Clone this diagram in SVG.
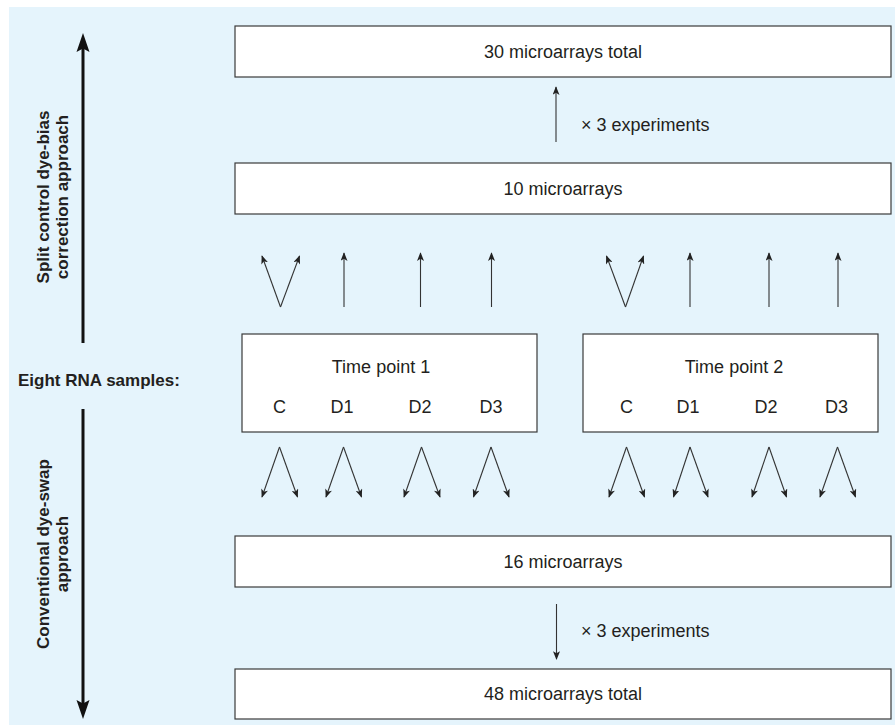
<svg xmlns="http://www.w3.org/2000/svg" width="895" height="725" viewBox="0 0 895 725">
<style>
.box{fill:#fff;stroke:#3a3a3a;stroke-width:1.2}
.t{font-family:"Liberation Sans",Arial,sans-serif;font-size:18px;fill:#231f20}
.b{font-family:"Liberation Sans",Arial,sans-serif;font-size:17px;font-weight:bold;fill:#231f20}
.c{font-family:"Liberation Sans",Arial,sans-serif;font-size:18px;fill:#231f20;text-anchor:middle}
.a{fill:none;stroke:#333;stroke-width:1.1;marker-end:url(#ah)}
.big{stroke:#111;stroke-width:3;fill:none}
.bh{fill:#111}
</style>
<defs>
<marker id="ah" viewBox="0 0 10 8" refX="9" refY="4" markerWidth="9" markerHeight="7" markerUnits="userSpaceOnUse" orient="auto">
<path d="M0,0 L10,4 L0,8 L2.5,4 Z" fill="#222"/>
</marker>
</defs>
<rect x="9" y="7" width="886" height="718" fill="#e5f4fc"/>

<g id="connectors">
<path class="big" d="M83,48 V343"/>
<path class="bh" d="M83,33 L89.5,52 L83,48.5 L76.5,52 Z"/>
<path class="big" d="M83,409 V704"/>
<path class="bh" d="M83,719 L89.5,700 L83,703.5 L76.5,700 Z"/>

<path class="a" d="M556,142 V87"/>
<path class="a" d="M556.5,604 V659"/>

<path class="a" d="M280.5,307 L262,256"/>
<path class="a" d="M280.5,307 L299.5,256"/>
<path class="a" d="M344,307 V253"/>
<path class="a" d="M420.5,307 V253"/>
<path class="a" d="M491.5,307 V253"/>
<path class="a" d="M625.5,307 L606.5,256"/>
<path class="a" d="M625.5,307 L643.5,256"/>
<path class="a" d="M690,307 V253"/>
<path class="a" d="M769,307 V253"/>
<path class="a" d="M838,307 V253"/>

<path class="a" d="M279.5,447 L262,497"/>
<path class="a" d="M279.5,447 L297.5,497"/>
<path class="a" d="M343.5,447 L326,497"/>
<path class="a" d="M343.5,447 L361.5,497"/>
<path class="a" d="M421.5,447 L404,497"/>
<path class="a" d="M421.5,447 L440,497"/>
<path class="a" d="M491,447 L473.5,497"/>
<path class="a" d="M491,447 L509,497"/>
<path class="a" d="M626.5,447 L609,497"/>
<path class="a" d="M626.5,447 L644.5,497"/>
<path class="a" d="M690,447 L673.5,497"/>
<path class="a" d="M690,447 L708,497"/>
<path class="a" d="M769,447 L752,497"/>
<path class="a" d="M769,447 L786.5,497"/>
<path class="a" d="M837.5,447 L820,497"/>
<path class="a" d="M837.5,447 L855.5,497"/>
</g>

<g id="label-split">
<text class="b" text-anchor="middle" transform="translate(49,197) rotate(-90)">Split control dye-bias</text>
<text class="b" text-anchor="middle" transform="translate(68,197) rotate(-90)">correction approach</text>
</g>
<g id="label-conventional">
<text class="b" text-anchor="middle" transform="translate(49,554) rotate(-90)">Conventional dye-swap</text>
<text class="b" text-anchor="middle" transform="translate(68,554) rotate(-90)">approach</text>
</g>
<g id="label-eight">
<text class="b" x="18" y="386">Eight RNA samples:</text>
</g>

<g id="node-30">
<rect class="box" x="235" y="26" width="656" height="51"/>
<text class="c" x="563" y="58">30 microarrays total</text>
</g>
<g id="label-x3-top">
<text class="t" x="581" y="131">× 3 experiments</text>
</g>
<g id="node-10">
<rect class="box" x="235" y="163" width="656" height="51"/>
<text class="c" x="563" y="195">10 microarrays</text>
</g>

<g id="node-tp1">
<rect class="box" x="242" y="334" width="295" height="98"/>
<text class="c" x="381" y="373">Time point 1</text>
<text class="c" x="279.5" y="413">C</text>
<text class="c" x="342" y="413">D1</text>
<text class="c" x="420" y="413">D2</text>
<text class="c" x="491" y="413">D3</text>
</g>
<g id="node-tp2">
<rect class="box" x="583" y="334" width="295" height="98"/>
<text class="c" x="734" y="373">Time point 2</text>
<text class="c" x="626.5" y="413">C</text>
<text class="c" x="688" y="413">D1</text>
<text class="c" x="766" y="413">D2</text>
<text class="c" x="836.5" y="413">D3</text>
</g>

<g id="node-16">
<rect class="box" x="235" y="536" width="656" height="51"/>
<text class="c" x="563" y="568">16 microarrays</text>
</g>
<g id="label-x3-bottom">
<text class="t" x="581" y="637">× 3 experiments</text>
</g>
<g id="node-48">
<rect class="box" x="235" y="669" width="656" height="50"/>
<text class="c" x="563" y="700">48 microarrays total</text>
</g>
</svg>
